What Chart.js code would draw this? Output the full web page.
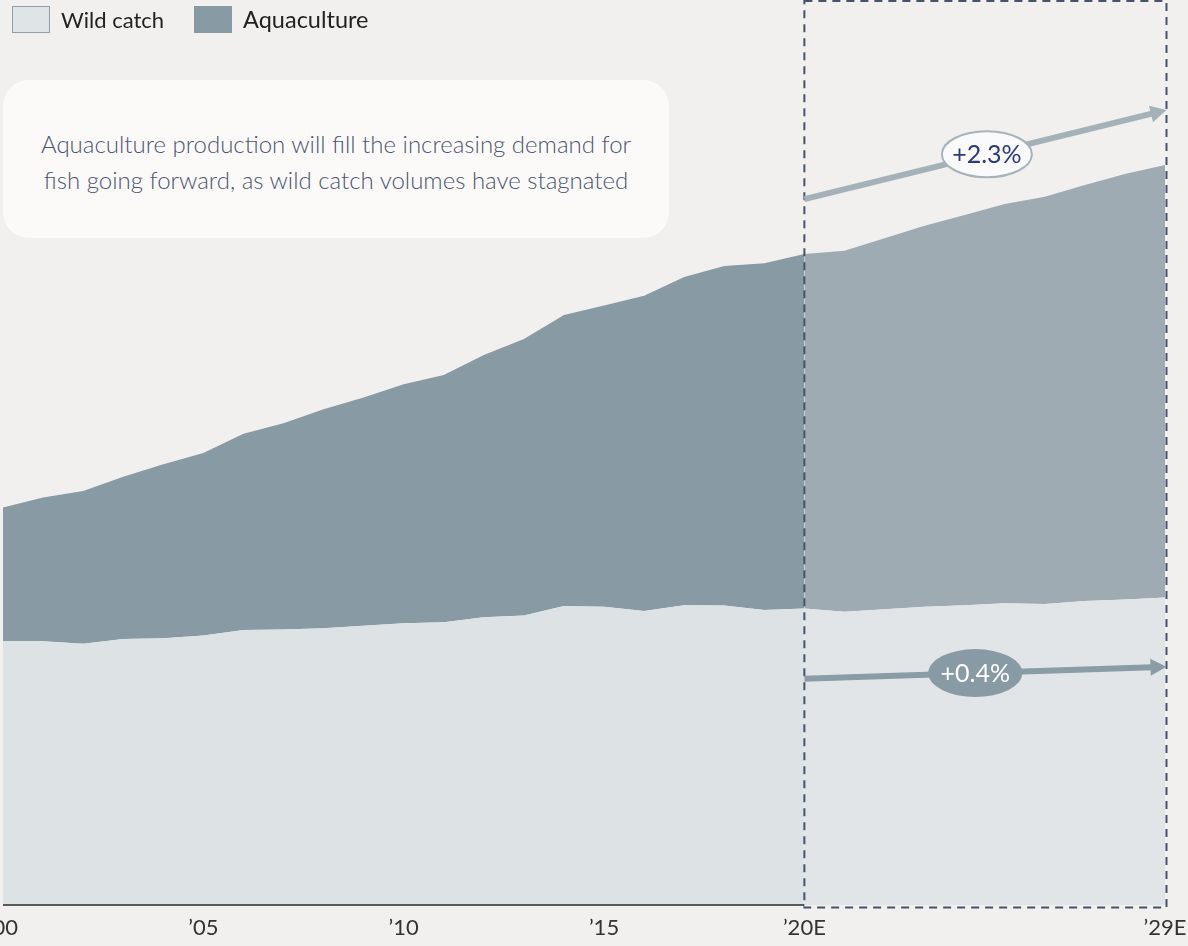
<!DOCTYPE html>
<html>
<head>
<meta charset="utf-8">
<title>Wild catch and aquaculture</title>
<script src="https://cdn.jsdelivr.net/npm/chart.js@4.4.1/dist/chart.umd.min.js"></script>
<style>
  html, body { margin: 0; padding: 0; background: #f1f0ee; }
  #wrap { position: relative; width: 1188px; height: 946px; overflow: hidden; font-family: Lato, "Open Sans", sans-serif; }
  #chart { position: absolute; left: 0; top: 0; }
  .legend { position: absolute; left: 12px; top: 5px; display: flex; align-items: center; font-size: 22px; color: #222; }
  .legend .sw { width: 38px; height: 27px; box-sizing: border-box; margin-right: 11px; }
  .legend .item { display: flex; align-items: center; margin-right: 30px; }
  .legend .item.aq { font-size: 23.5px; }
  .note { position: absolute; left: 3px; top: 80px; width: 666px; height: 158px; box-sizing: border-box; padding-top: 5px;
          background: #fbfaf8; border-radius: 26px;
          display: flex; align-items: center; justify-content: center; text-align: center;
          font-weight: 300; font-size: 24px; line-height: 36px; color: #4b5670; }
</style>
</head>
<body>
<div id="wrap">
  <canvas id="chart" width="1188" height="946"></canvas>
  <div class="legend">
    <div class="item"><div class="sw" style="background:#dfe4e7;border:1px solid #8e9fa8"></div>Wild catch</div>
    <div class="item aq"><div class="sw" style="background:#889ba4"></div>Aquaculture</div>
  </div>
  <div class="note">Aquaculture production will fill the increasing demand for<br>fish going forward, as wild catch volumes have stagnated</div>
</div>
<script>
const years = [2000, 2001, 2002, 2003, 2004, 2005, 2006, 2007, 2008, 2009,
               2010, 2011, 2012, 2013, 2014, 2015, 2016, 2017, 2018, 2019,
               2020, 2021, 2022, 2023, 2024, 2025, 2026, 2027, 2028, 2029];
const wildCatch = [87.4, 87.4, 86.6, 88.2, 88.4, 89.3, 91.2, 91.3, 91.7, 92.6,
                   93.4, 93.7, 95.4, 96.0, 99.1, 98.9, 97.5, 99.4, 99.3, 97.8,
                   98.3, 97.2, 98.0, 98.9, 99.4, 100.0, 99.8, 100.8, 101.3, 101.9];
const aquaculture = [44.4, 47.7, 50.6, 53.8, 57.7, 60.5, 65.0, 68.4, 72.6, 75.6,
                     79.2, 82.0, 86.9, 91.6, 96.5, 99.8, 104.5, 108.8, 112.5, 114.9,
                     117.5, 119.7, 123.0, 126.3, 129.3, 132.4, 135.0, 137.9, 141.0, 143.4];
const forecastStart = 2020;
const tickYears = [2000, 2005, 2010, 2015, 2020, 2029];
const tickLabels = ['’00', '’05', '’10', '’15', '’20E', '’29E'];
const growthLabels = ['+2.3%', '+0.4%'];

const idxHist = years.map((_, i) => i).filter(i => years[i] <= forecastStart);
const idxEst = years.map((_, i) => i).filter(i => years[i] >= forecastStart);
const pts = (idx, arr) => idx.map(i => ({x: years[i], y: arr[i]}));

function area(label, data, stack, fill, color) {
    return {label, data, stack, fill, backgroundColor: color, borderColor: 'transparent',
            borderWidth: 0, pointRadius: 0, pointHoverRadius: 0, tension: 0};
}

function drawArrow(ctx, xa, ya, xb, yb, color, w) {
    const ang = Math.atan2(yb - ya, xb - xa);
    const head = 16, half = 8.5;
    const bx = xb - Math.cos(ang) * head, by = yb - Math.sin(ang) * head;
    ctx.strokeStyle = color;
    ctx.fillStyle = color;
    ctx.lineWidth = w;
    ctx.beginPath();
    ctx.moveTo(xa, ya);
    ctx.lineTo(bx + Math.cos(ang) * 2, by + Math.sin(ang) * 2);
    ctx.stroke();
    ctx.beginPath();
    ctx.moveTo(xb, yb);
    ctx.lineTo(bx - Math.sin(ang) * half, by + Math.cos(ang) * half);
    ctx.lineTo(bx + Math.sin(ang) * half, by - Math.cos(ang) * half);
    ctx.closePath();
    ctx.fill();
}

function drawBadge(ctx, cx, cy, rx, ry, fill, stroke, text, color) {
    ctx.beginPath();
    ctx.ellipse(cx, cy, rx, ry, 0, 0, Math.PI * 2);
    ctx.fillStyle = fill;
    ctx.fill();
    if (stroke) {
        ctx.lineWidth = 2;
        ctx.strokeStyle = stroke;
        ctx.stroke();
    }
    ctx.fillStyle = color;
    ctx.font = '400 25px Lato, "Open Sans", sans-serif';
    ctx.textAlign = 'center';
    ctx.textBaseline = 'middle';
    ctx.fillText(text, cx, cy + 1);
}

// baseline, estimate box and growth arrows on top of the areas
const overlay = {
    id: 'overlay',
    afterDraw(chart) {
        const {ctx, chartArea: a, scales: {x, y}} = chart;
        const x0 = x.getPixelForValue(forecastStart);
        const x1 = x.getPixelForValue(years[years.length - 1]) + 1.5;
        ctx.save();

        ctx.strokeStyle = '#2a2a2a';
        ctx.lineWidth = 1.5;
        ctx.beginPath();
        ctx.moveTo(a.left, a.bottom);
        ctx.lineTo(x0, a.bottom);
        ctx.stroke();

        ctx.setLineDash([8, 6]);
        ctx.strokeStyle = '#46536a';
        ctx.lineWidth = 2;
        ctx.strokeRect(x0, 1, x1 - x0, a.bottom + 1.5);
        ctx.setLineDash([]);

        // aquaculture growth
        const ta = [x0, y.getPixelForValue(234), x1, y.getPixelForValue(263.5)];
        drawArrow(ctx, ...ta, '#a4b1b9', 6);
        drawBadge(ctx, ta[0] + (ta[2] - ta[0]) * 0.504, ta[1] + (ta[3] - ta[1]) * 0.504,
                  45, 23, '#fafafa', '#a7b3ba', growthLabels[0], '#2f3b76');

        // wild catch growth
        const tb = [x0, y.getPixelForValue(75.0), x1, y.getPixelForValue(79.0)];
        drawArrow(ctx, ...tb, '#8a9ca5', 6);
        drawBadge(ctx, tb[0] + (tb[2] - tb[0]) * 0.472, tb[1] + (tb[3] - tb[1]) * 0.472,
                  47, 24, '#889ba4', null, growthLabels[1], '#ffffff');

        ctx.restore();
    }
};

new Chart(document.getElementById('chart'), {
    type: 'line',
    data: {
        datasets: [
            area('Wild catch', pts(idxHist, wildCatch), 'hist', 'origin', '#dde2e5'),
            area('Aquaculture', pts(idxHist, aquaculture), 'hist', '-1', '#889ba4'),
            area('Wild catch E', pts(idxEst, wildCatch), 'est', 'origin', '#e1e5e8'),
            area('Aquaculture E', pts(idxEst, aquaculture), 'est', '-1', '#9eabb3')
        ]
    },
    options: {
        responsive: false,
        animation: false,
        devicePixelRatio: 1,
        layout: {padding: {left: 3, right: 23, top: 0, bottom: 0}},
        plugins: {legend: {display: false}, tooltip: {enabled: false}},
        scales: {
            x: {
                type: 'linear', min: 2000, max: 2029,
                grid: {display: false, drawTicks: false},
                border: {display: false},
                afterBuildTicks: s => { s.ticks = tickYears.map(v => ({value: v})); },
                afterFit: s => { s.height = 41; s.paddingLeft = 0; s.paddingRight = 0; },
                ticks: {
                    autoSkip: false, maxRotation: 0, padding: 10, color: '#333',
                    font: {family: 'Lato, "Open Sans", sans-serif', size: 22},
                    callback: (v, i) => tickLabels[i]
                }
            },
            y: {stacked: true, min: 0, max: 300, display: false}
        }
    },
    plugins: [overlay]
});
</script>
</body>
</html>
